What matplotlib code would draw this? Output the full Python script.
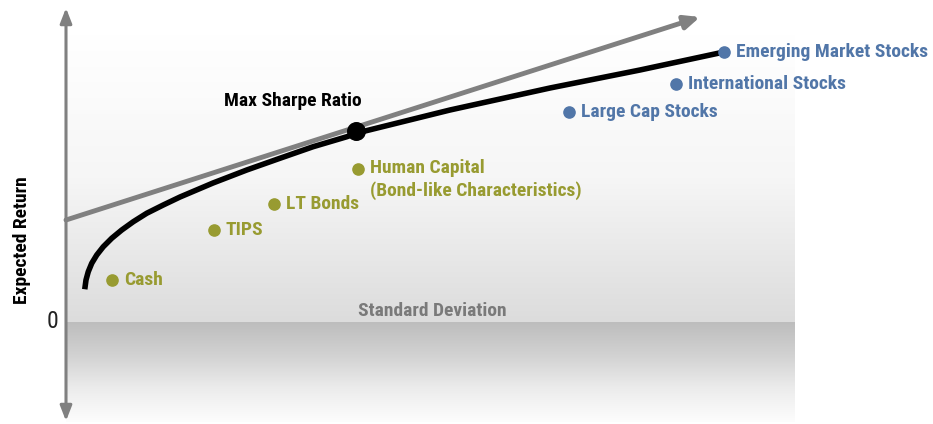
import numpy as np
import matplotlib as mpl
import matplotlib.pyplot as plt
from matplotlib.colors import LinearSegmentedColormap

## Efficient frontier (std dev, expected return)
frontier_sd  = [0.75, 0.80, 0.89, 1.03, 1.23, 1.49, 1.83, 2.23, 2.69, 3.23, 3.89,
                4.56, 5.88, 7.23, 8.56, 9.88, 11.23, 11.64, 15.36, 19.36, 22.96, 26.32]
frontier_ret = [1.31, 1.68, 2.01, 2.35, 2.68, 3.01, 3.35, 3.68, 4.01, 4.35, 4.68,
                5.00, 5.56, 6.08, 6.55, 7.01, 7.41, 7.56, 8.48, 9.36, 10.08, 10.80]

## Capital market line: start at the risk free rate, end at the arrow tip
cml_sd  = [0.0, 25.36]
cml_ret = [4.08, 12.20]

## Tangency portfolio
sharpe_sd, sharpe_ret = 11.60, 7.66

## Bond-like assets
bond_names = ['Cash', 'TIPS', 'LT Bonds', 'Human Capital\n(Bond-like Characteristics)']
bond_sd    = [1.83, 5.92, 8.32, 11.68]
bond_ret   = [1.68, 3.68, 4.72, 6.12]

## Equity assets
stock_names = ['Large Cap Stocks', 'International Stocks', 'Emerging Market Stocks']
stock_sd    = [20.12, 24.40, 26.32]
stock_ret   = [8.40, 9.52, 10.80]

green = '#989b31'
blue  = '#5176a8'
grey  = '#808080'
mpl.rcParams['font.family'] = ['Roboto Condensed', 'DejaVu Sans Condensed',
                               'Liberation Sans Narrow', 'Roboto']
fs = 14

fig = plt.figure(figsize=(9.33, 4.24), dpi=100)
ax = fig.add_axes([0, 0, 1, 1])
ax.set_xlim(-2.64, 34.68)
ax.set_ylim(-4.08, 12.88)
ax.axis('off')

## shaded background, above and below zero
x_right = 29.16
top_cmap = LinearSegmentedColormap.from_list('top', ['#dcdcdc', '#f6f6f6', '#ffffff'])
ax.imshow(np.linspace(0, 1, 256)[:, None], cmap=top_cmap, aspect='auto', origin='lower',
          extent=(0, x_right, 0, 11.5), zorder=0)
bot_cmap = LinearSegmentedColormap.from_list('bot', ['#bdbdbd', '#d2d2d2', '#ececec', '#fdfdfd'])
ax.imshow(np.linspace(0, 1, 256)[:, None], cmap=bot_cmap, aspect='auto', origin='upper',
          extent=(0, x_right, -4.0, 0), zorder=0)

## vertical axis with arrows at both ends
ax.annotate('', xy=(0, 12.56), xytext=(0, -3.96),
            arrowprops=dict(arrowstyle='<|-|>,head_length=0.9,head_width=0.35',
                            color=grey, lw=2.2, shrinkA=0, shrinkB=0), zorder=2)
ax.text(-0.3, 0, '0', ha='right', va='center', fontsize=17, color='#222222')
ax.text(-1.76, 3.28, 'Expected Return', rotation=90, ha='center', va='center',
        fontsize=fs, fontweight='bold', color='black')
ax.text(11.68, 0.44, 'Standard Deviation', ha='left', va='center',
        fontsize=fs, fontweight='bold', color='#7a7a7a')

## capital market line
ax.annotate('', xy=(cml_sd[1], cml_ret[1]), xytext=(cml_sd[0], cml_ret[0]),
            arrowprops=dict(arrowstyle='-|>,head_length=0.9,head_width=0.4',
                            color=grey, lw=3.5, shrinkA=0, shrinkB=0), zorder=3)

## efficient frontier
ax.plot(frontier_sd, frontier_ret, color='black', lw=4, solid_capstyle='butt',
        solid_joinstyle='round', zorder=4)
ax.scatter([sharpe_sd], [sharpe_ret], s=160, color='black', zorder=5)
ax.text(6.32, 8.84, 'Max Sharpe Ratio', ha='left', va='center', fontsize=fs,
        fontweight='bold', color='black')

## asset points
ax.scatter(bond_sd, bond_ret, s=65, color=green, zorder=6)
for name, sd, r in zip(bond_names, bond_sd, bond_ret):
    multi = '\n' in name
    ax.text(sd + 0.48, r + (0.42 if multi else 0), name, ha='left',
            va='top' if multi else 'center', fontsize=fs, fontweight='bold',
            color=green, linespacing=1.35)

ax.scatter(stock_sd, stock_ret, s=65, color=blue, zorder=6)
for name, sd, r in zip(stock_names, stock_sd, stock_ret):
    ax.text(sd + 0.48, r, name, ha='left', va='center', fontsize=fs,
            fontweight='bold', color=blue)

plt.savefig('out.png', dpi=100)
plt.close(fig)
